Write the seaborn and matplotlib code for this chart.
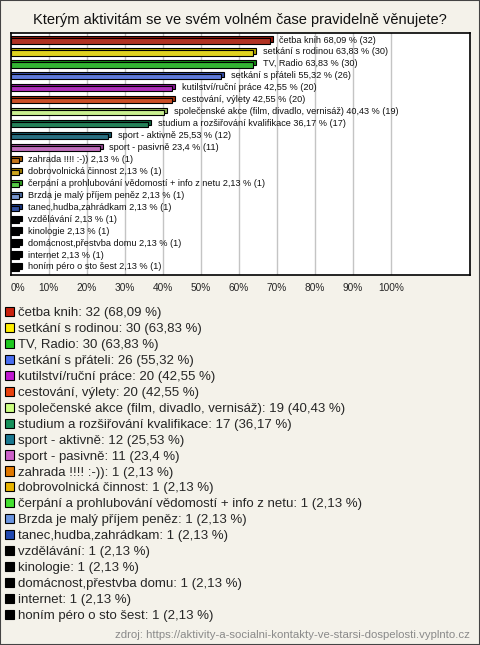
import numpy as np
import pandas as pd
import matplotlib
matplotlib.use("Agg")
import matplotlib.pyplot as plt
import matplotlib.colors as mcolors
from matplotlib.patches import Patch, Rectangle
import seaborn as sns

categories = [
    "četba knih", "setkání s rodinou", "TV, Radio", "setkání s přáteli",
    "kutilství/ruční práce", "cestování, výlety",
    "společenské akce (film, divadlo, vernisáž)",
    "studium a rozšiřování kvalifikace", "sport - aktivně", "sport - pasivně",
    "zahrada !!!! :-))", "dobrovolnická činnost",
    "čerpání a prohlubování vědomostí + info z netu",
    "Brzda je malý příjem peněz", "tanec,hudba,zahrádkam", "vzdělávání",
    "kinologie", "domácnost,přestvba domu", "internet",
    "honím péro o sto šest",
]
counts = [32, 30, 30, 26, 20, 20, 19, 17, 12, 11, 1, 1, 1, 1, 1, 1, 1, 1, 1, 1]
percents = [68.09, 63.83, 63.83, 55.32, 42.55, 42.55, 40.43, 36.17, 25.53, 23.4,
            2.13, 2.13, 2.13, 2.13, 2.13, 2.13, 2.13, 2.13, 2.13, 2.13]
colors = ["#c8200c", "#ffee00", "#1ec81e", "#4a6ef0", "#c018d0", "#e8400c",
          "#ccff80", "#16905a", "#1a7890", "#cc60c8", "#e07800", "#e8b400",
          "#44e030", "#6a94e0", "#2048b0", "#000000", "#000000", "#000000",
          "#000000", "#000000"]
tick_labels = ["0%", "10%", "20%", "30%", "40%", "50%", "60%", "70%", "80%", "90%", "100%"]
title = "Kterým aktivitám se ve svém volném čase pravidelně věnujete?"
source = "zdroj: https://aktivity-a-socialni-kontakty-ve-starsi-dospelosti.vyplnto.cz"

def fmt(v):
    return f"{v:g}".replace(".", ",")

sns.set_theme(style="white")
plt.rcParams["font.family"] = ["Liberation Sans", "DejaVu Sans"]

bg = "#f4f2ea"
fig = plt.figure(figsize=(4.8, 6.45), dpi=100, facecolor=bg)
ax = fig.add_axes([10.5 / 480, 1 - 275 / 645, 459.5 / 480, 242 / 645])
ax.set_facecolor("white")

df = pd.DataFrame({"cat": categories, "pct": percents})
n = len(categories)
pos = np.arange(n)

# 3D depth face behind the bars
dark = [tuple(np.array(mcolors.to_rgb(c)) * 0.7) for c in colors]
ax.barh(pos - 0.17, np.array(percents) + 0.8, height=0.44, left=0,
        color=dark, edgecolor="black", linewidth=0.8, zorder=2)

sns.barplot(data=df, x="pct", y="cat", hue="cat", palette=colors, legend=False,
            orient="h", width=0.44, edgecolor="black", linewidth=0.8, ax=ax,
            zorder=3)

for i in range(n):
    ax.text(percents[i] + 2.6, i - 0.08,
            f"{categories[i]} {fmt(percents[i])} % ({counts[i]})",
            fontsize=6.6, va="center", ha="left", color="#111111", zorder=4)

ax.set_xlim(0, 120.8)
ax.set_ylim(n - 1 + 0.59, -0.67)
ax.set_xticks(np.arange(0, 101, 10))
ax.set_xticklabels(tick_labels, fontsize=7.3)
ax.tick_params(axis="x", length=0, pad=6)
ax.set_yticks([])
ax.set_xlabel("")
ax.set_ylabel("")
ax.get_xticklabels()[0].set_ha("left")
for x in np.arange(10, 101, 10):
    ax.axvline(x, color="#c4c4c4", linewidth=1, zorder=1)
for s in ax.spines.values():
    s.set_visible(True)
    s.set_color("black")
    s.set_linewidth(1.2)

fig.text(0.5, 1 - 20 / 645, title, ha="center", va="center", fontsize=10.5, color="#111111")

handles = [Patch(facecolor=c, edgecolor="black", linewidth=0.8) for c in colors]
labels = [f"{categories[i]}: {counts[i]} ({fmt(percents[i])} %)" for i in range(n)]
fig.legend(handles, labels, loc="upper left", bbox_to_anchor=(5 / 480, 1 - 307 / 645),
           frameon=False, fontsize=9.5, handlelength=0.7, handleheight=0.7,
           handletextpad=0.3, labelspacing=0.28, borderpad=0, borderaxespad=0)

fig.text(1 - 10 / 480, 1 - 635 / 645, source, ha="right", va="center",
         fontsize=8.2, color="#8a8a8a")

fig.patches.append(Rectangle((0, 0), 1, 1, transform=fig.transFigure, fill=False,
                             edgecolor="#444444", linewidth=1.5))

fig.savefig("out.png", dpi=100, facecolor=bg)
